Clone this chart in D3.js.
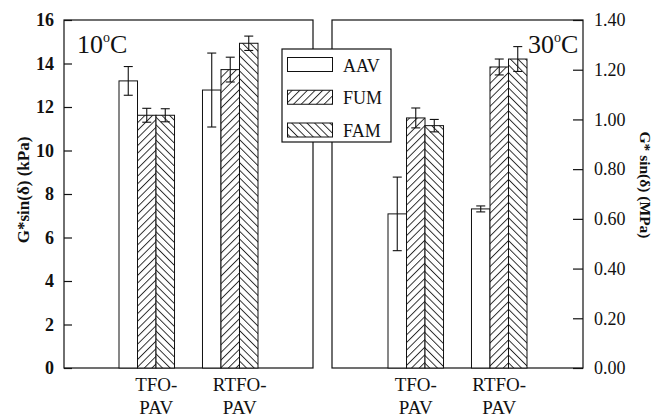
<!DOCTYPE html>
<html>
<head>
<meta charset="utf-8">
<script src="https://cdn.jsdelivr.net/npm/d3@7"></script>
<style>
  html, body { margin: 0; padding: 0; background: #fff; }
  svg { display: block; }
  svg text { font-family: "Liberation Serif", Tinos, "Times New Roman", Times, "DejaVu Serif", serif !important; fill: #111; }
</style>
</head>
<body>
<svg id="chart" width="654" height="417"></svg>
<script>
// Aging conditions (x categories) and binder series
const categories = ["TFO-PAV", "RTFO-PAV"];
const seriesNames = ["AAV", "FUM", "FAM"];

// 10 °C panel, G*sin(δ) in kPa
const aav10 = [13.2, 12.78];
const fum10 = [11.62, 13.72];
const fam10 = [11.62, 14.93];
const aav10Err = [0.66, 1.70];
const fum10Err = [0.32, 0.57];
const fam10Err = [0.30, 0.33];

// 30 °C panel, G*sin(δ) in MPa
const aav30 = [0.62, 0.64];
const fum30 = [1.006, 1.211];
const fam30 = [0.975, 1.243];
const aav30Err = [0.148, 0.012];
const fum30Err = [0.040, 0.032];
const fam30Err = [0.025, 0.050];

// Tick labels
const ticks10 = [0, 2, 4, 6, 8, 10, 12, 14, 16];
const ticks30 = [0.00, 0.20, 0.40, 0.60, 0.80, 1.00, 1.20, 1.40];

const serif = '"Liberation Serif", Tinos, "Times New Roman", Times, "DejaVu Serif", serif';
const svg = d3.select("#chart").attr("font-family", serif);
const defs = svg.append("defs");

// Hatch fills: FUM "////", FAM "\\\\"
function hatch(id, angle) {
  const p = defs.append("pattern")
    .attr("id", id)
    .attr("patternUnits", "userSpaceOnUse")
    .attr("width", 5.4).attr("height", 10)
    .attr("patternTransform", `rotate(${angle})`);
  p.append("rect").attr("width", 5.4).attr("height", 10).attr("fill", "#fff");
  p.append("line").attr("x1", 0.5).attr("y1", 0).attr("x2", 0.5).attr("y2", 10)
    .attr("stroke", "#111").attr("stroke-width", 0.9);
}
hatch("hatchFUM", 45);
hatch("hatchFAM", -45);
const fills = { AAV: "#fff", FUM: "url(#hatchFUM)", FAM: "url(#hatchFAM)" };

const plotTop = 20, plotBottom = 368;

const panels = [
  {
    left: 64, right: 313, bandsFrom: 119, bandsTo: 258,
    max: 16, ticks: ticks10, fmt: d3.format("d"), side: "left",
    values: { AAV: aav10, FUM: fum10, FAM: fam10 },
    errors: { AAV: aav10Err, FUM: fum10Err, FAM: fam10Err },
    temp: "10", tempX: 77, labelShift: 9.5
  },
  {
    left: 332, right: 583, bandsFrom: 388, bandsTo: 527,
    max: 1.4, ticks: ticks30, fmt: d3.format(".2f"), side: "right",
    values: { AAV: aav30, FUM: fum30, FAM: fam30 },
    errors: { AAV: aav30Err, FUM: fum30Err, FAM: fam30Err },
    temp: "30", tempX: 528, labelShift: 0
  }
];

panels.forEach(p => {
  const g = svg.append("g");
  const x = d3.scaleBand().domain(categories)
    .range([p.bandsFrom, p.bandsTo]).paddingInner(0.335).paddingOuter(0);
  const xs = d3.scaleBand().domain(seriesNames).range([0, x.bandwidth()]).padding(0);
  const y = d3.scaleLinear().domain([0, p.max]).range([plotBottom, plotTop]);

  // frame
  g.append("rect")
    .attr("x", p.left).attr("y", plotTop)
    .attr("width", p.right - p.left).attr("height", plotBottom - plotTop)
    .attr("fill", "none").attr("stroke", "#111").attr("stroke-width", 1.2);

  // axis with inward ticks
  const axis = (p.side === "left" ? d3.axisLeft(y) : d3.axisRight(y))
    .tickValues(p.ticks).tickFormat(p.fmt)
    .tickSizeInner(p.side === "left" ? -8 : -10).tickSizeOuter(0)
    .tickPadding(p.side === "left" ? 10 : 11);
  const ax = g.append("g")
    .attr("transform", `translate(${p.side === "left" ? p.left : p.right},0)`)
    .call(axis)
    .attr("font-family", serif)
    .attr("font-size", 18)
    .attr("font-weight", p.side === "left" ? "bold" : "normal");
  ax.select(".domain").remove();
  ax.selectAll("line").attr("stroke", "#111").attr("stroke-width", 1.2);
  ax.selectAll("text").attr("fill", "#111");

  // bars
  categories.forEach((c, i) => {
    seriesNames.forEach(s => {
      const v = p.values[s][i], e = p.errors[s][i];
      const x0 = x(c) + xs(s);
      g.append("rect")
        .attr("x", x0).attr("y", y(v))
        .attr("width", xs.bandwidth()).attr("height", y(0) - y(v))
        .attr("fill", fills[s]).attr("stroke", "#111").attr("stroke-width", 1);
      const cx = x0 + xs.bandwidth() / 2;
      const eg = g.append("g").attr("stroke", "#111").attr("stroke-width", 1.1);
      eg.append("line").attr("x1", cx).attr("x2", cx).attr("y1", y(v + e)).attr("y2", y(v - e));
      [v + e, v - e].forEach(t => eg.append("line")
        .attr("x1", cx - 4.5).attr("x2", cx + 4.5).attr("y1", y(t)).attr("y2", y(t)));
    });
    // category label, two lines
    const lx = x(c) + x.bandwidth() / 2 + p.labelShift;
    const parts = c.split("-");
    g.append("text").attr("x", lx).attr("y", 391).attr("text-anchor", "middle")
      .attr("font-size", 19).text(parts[0] + "-");
    g.append("text").attr("x", lx).attr("y", 413.5).attr("text-anchor", "middle")
      .attr("font-size", 19).text(parts[1]);
  });

  // temperature tag
  const t = g.append("text").attr("x", p.tempX).attr("y", 53).attr("font-size", 26);
  t.append("tspan").text(p.temp);
  t.append("tspan").attr("dy", -11).attr("font-size", 14).text("o");
  t.append("tspan").attr("dy", 11).text("C");
});

// axis titles
svg.append("text")
  .attr("transform", "translate(29,190) rotate(-90)")
  .attr("text-anchor", "middle")
  .attr("font-size", 17).attr("font-weight", "bold")
  .text("G*sin(δ) (kPa)");
svg.append("text")
  .attr("transform", "translate(640,185) rotate(90)")
  .attr("text-anchor", "middle")
  .attr("font-size", 15.5).attr("font-weight", "bold")
  .text("G* sin(δ) (MPa)");

// legend (drawn over both frames)
const lg = svg.append("g");
lg.append("rect").attr("x", 282).attr("y", 49).attr("width", 109).attr("height", 93)
  .attr("fill", "#fff").attr("stroke", "#111").attr("stroke-width", 1.2);
const legendRow = d3.scalePoint().domain(seriesNames).range([64.5, 130]);
seriesNames.forEach(s => {
  const cy = legendRow(s);
  lg.append("rect").attr("x", 287.5).attr("y", cy - 7).attr("width", 45).attr("height", 14)
    .attr("fill", fills[s]).attr("stroke", "#111").attr("stroke-width", 1);
  lg.append("text").attr("x", 343).attr("y", cy + 7).attr("font-size", 18).text(s);
});
</script>
</body>
</html>
